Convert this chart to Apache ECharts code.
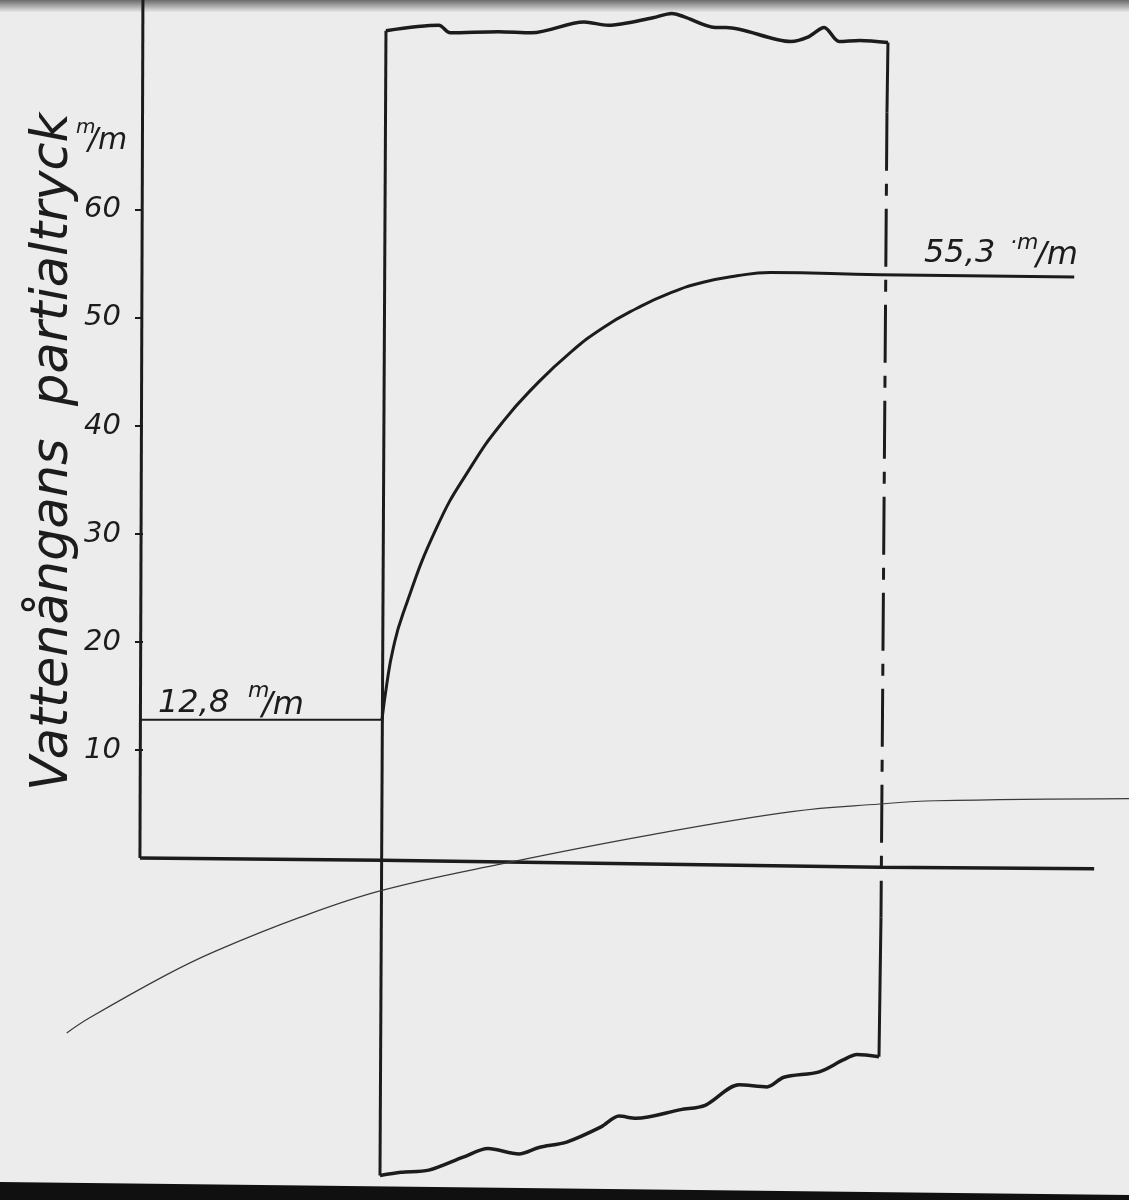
<!DOCTYPE html>
<html>
<head>
<meta charset="utf-8">
<script src="https://cdn.jsdelivr.net/npm/echarts@6/dist/echarts.min.js"></script>
<style>html,body{margin:0;padding:0;background:#ececec;}#c{width:1129px;height:1200px;}</style>
</head>
<body>
<div id="c"></div>
<script>
// x: position through the wall (0 = inner face, 100 = outer face); y: vapour pressure (mm)
const tickValues = [10, 20, 30, 40, 50, 60];
const yAxisLine = [[-48, 79.44], [-48.6, 0]];
const baseLine = [[-48.6, 0], [0, -0.2], [100, -0.85], [143, -1.0]];
const indoorLevel = [[-48.2, 12.8], [0, 12.8]];
const vapourCurve = [[0, 12.8], [1.0, 16.2], [2.2, 19.3], [4.2, 22.6], [11, 30.6], [17.7, 36.1], [24.3, 40.4], [31.1, 43.9], [37.8, 46.8], [44.4, 49.1], [51.2, 50.9], [57.8, 52.3], [64.5, 53.3], [71.3, 53.9], [77.9, 54.2], [100, 54.0], [139, 53.8]];
const wallLeft = [[0.8, 76.6], [-0.4, -29.4]];
const wallTop = [[0.8, 76.6], [11.4, 77.1], [13.7, 76.4], [23.3, 76.5], [30.1, 76.4], [40.6, 77.4], [45.4, 77.1], [54.4, 77.8], [58.2, 78.2], [60.6, 77.9], [66.9, 76.9], [69.1, 76.9], [82.1, 75.6], [85.5, 76.0], [88.8, 76.9], [91.8, 75.6], [96.0, 75.7], [101.6, 75.5]];
const wallRightTop = [[101.6, 75.5], [101.4, 69.0]];
const wallRightDashed = [[101.4, 69.0], [100.2, -5.5]];
const wallRightBottom = [[100.2, -5.5], [99.8, -18.4]];
const wallBottom = [[99.8, -18.4], [95.4, -18.2], [92.6, -18.7], [87.8, -19.8], [80.7, -20.3], [77.3, -21.2], [71.7, -21.0], [64.9, -22.9], [60.0, -23.3], [51.0, -24.1], [47.6, -23.9], [44.0, -24.9], [37.1, -26.3], [31.5, -26.8], [27.5, -27.4], [21.3, -26.9], [16.3, -27.7], [9.4, -28.9], [3.8, -29.1], [-0.4, -29.4]];
const thinCurve = [[-63.3, -16.2], [-58.7, -14.8], [-43.2, -10.8], [-33.3, -8.6], [-16.5, -5.5], [0, -3.0], [24.5, -0.5], [53.4, 2.1], [82.3, 4.3], [100, 5.0], [111.2, 5.3], [150, 5.5]];

const ink = '#1c1c1c';
const FONT = '"DejaVu Sans", sans-serif';
function ln(data, width, extra) {
  return Object.assign({
    type: 'line', data: data, symbol: 'none', silent: true, animation: false,
    lineStyle: { color: ink, width: width }
  }, extra || {});
}

const chart = echarts.init(document.getElementById('c'));
chart.setOption({
  backgroundColor: '#ececec',
  animation: false,
  grid: { left: 0, right: 0, top: 0, bottom: 18 },
  xAxis: { type: 'value', min: -76.7, max: 150, show: false },
  yAxis: {
    type: 'value', min: -30, max: 79.44, offset: -143,
    axisLine: { show: false, onZero: false },
    splitLine: { show: false },
    axisTick: { show: true, customValues: tickValues, length: 8, lineStyle: { color: ink, width: 2 } },
    axisLabel: { customValues: tickValues, margin: 22, fontSize: 29, fontStyle: 'italic', fontFamily: FONT, color: ink }
  },
  series: [
    ln(yAxisLine, 3),
    ln(baseLine, 3.5),
    ln(indoorLevel, 2),
    ln(vapourCurve, 3, { smooth: 0.5 }),
    ln(wallLeft, 3),
    ln(wallTop, 3.5, { smooth: 0.3 }),
    ln(wallRightTop, 3),
    ln(wallRightDashed, 3, { lineStyle: { color: ink, width: 3, type: [58, 13, 12, 13] } }),
    ln(wallRightBottom, 3),
    ln(wallBottom, 3.5, { smooth: 0.3 }),
    ln(thinCurve, 1.2, { smooth: 0.4, lineStyle: { color: '#3a3a3a', width: 1.2 } })
  ],
  graphic: [
    { type: 'rect', left: 0, top: 0, shape: { width: 1129, height: 12 }, style: { fill: new echarts.graphic.LinearGradient(0, 0, 0, 1, [{ offset: 0, color: '#6a6a6a' }, { offset: 1, color: '#e6e6e6' }]) }, silent: true },
    { type: 'polygon', shape: { points: [[0, 1182], [1129, 1195], [1129, 1200], [0, 1200]] }, style: { fill: '#101010' }, silent: true },
    { type: 'text', x: 54, y: 452, rotation: Math.PI / 2, style: { text: 'Vattenångans  partialtryck', font: 'italic 51px ' + FONT, fill: ink, align: 'center', verticalAlign: 'middle' }, silent: true },
    { type: 'text', x: 76, y: 118, style: { text: 'm', font: 'italic 20px ' + FONT, fill: ink }, silent: true },
    { type: 'text', x: 88, y: 126, style: { text: '/m', font: 'italic 30px ' + FONT, fill: ink }, silent: true },
    { type: 'text', x: 158, y: 688, style: { text: '12,8', font: 'italic 32px ' + FONT, fill: ink }, silent: true },
    { type: 'text', x: 248, y: 680, style: { text: 'm', font: 'italic 22px ' + FONT, fill: ink }, silent: true },
    { type: 'text', x: 262, y: 690, style: { text: '/m', font: 'italic 32px ' + FONT, fill: ink }, silent: true },
    { type: 'text', x: 924, y: 238, style: { text: '55,3', font: 'italic 32px ' + FONT, fill: ink }, silent: true },
    { type: 'text', x: 1010, y: 232, style: { text: '·m', font: 'italic 22px ' + FONT, fill: ink }, silent: true },
    { type: 'text', x: 1036, y: 240, style: { text: '/m', font: 'italic 32px ' + FONT, fill: ink }, silent: true }
  ]
});
</script>
</body>
</html>
